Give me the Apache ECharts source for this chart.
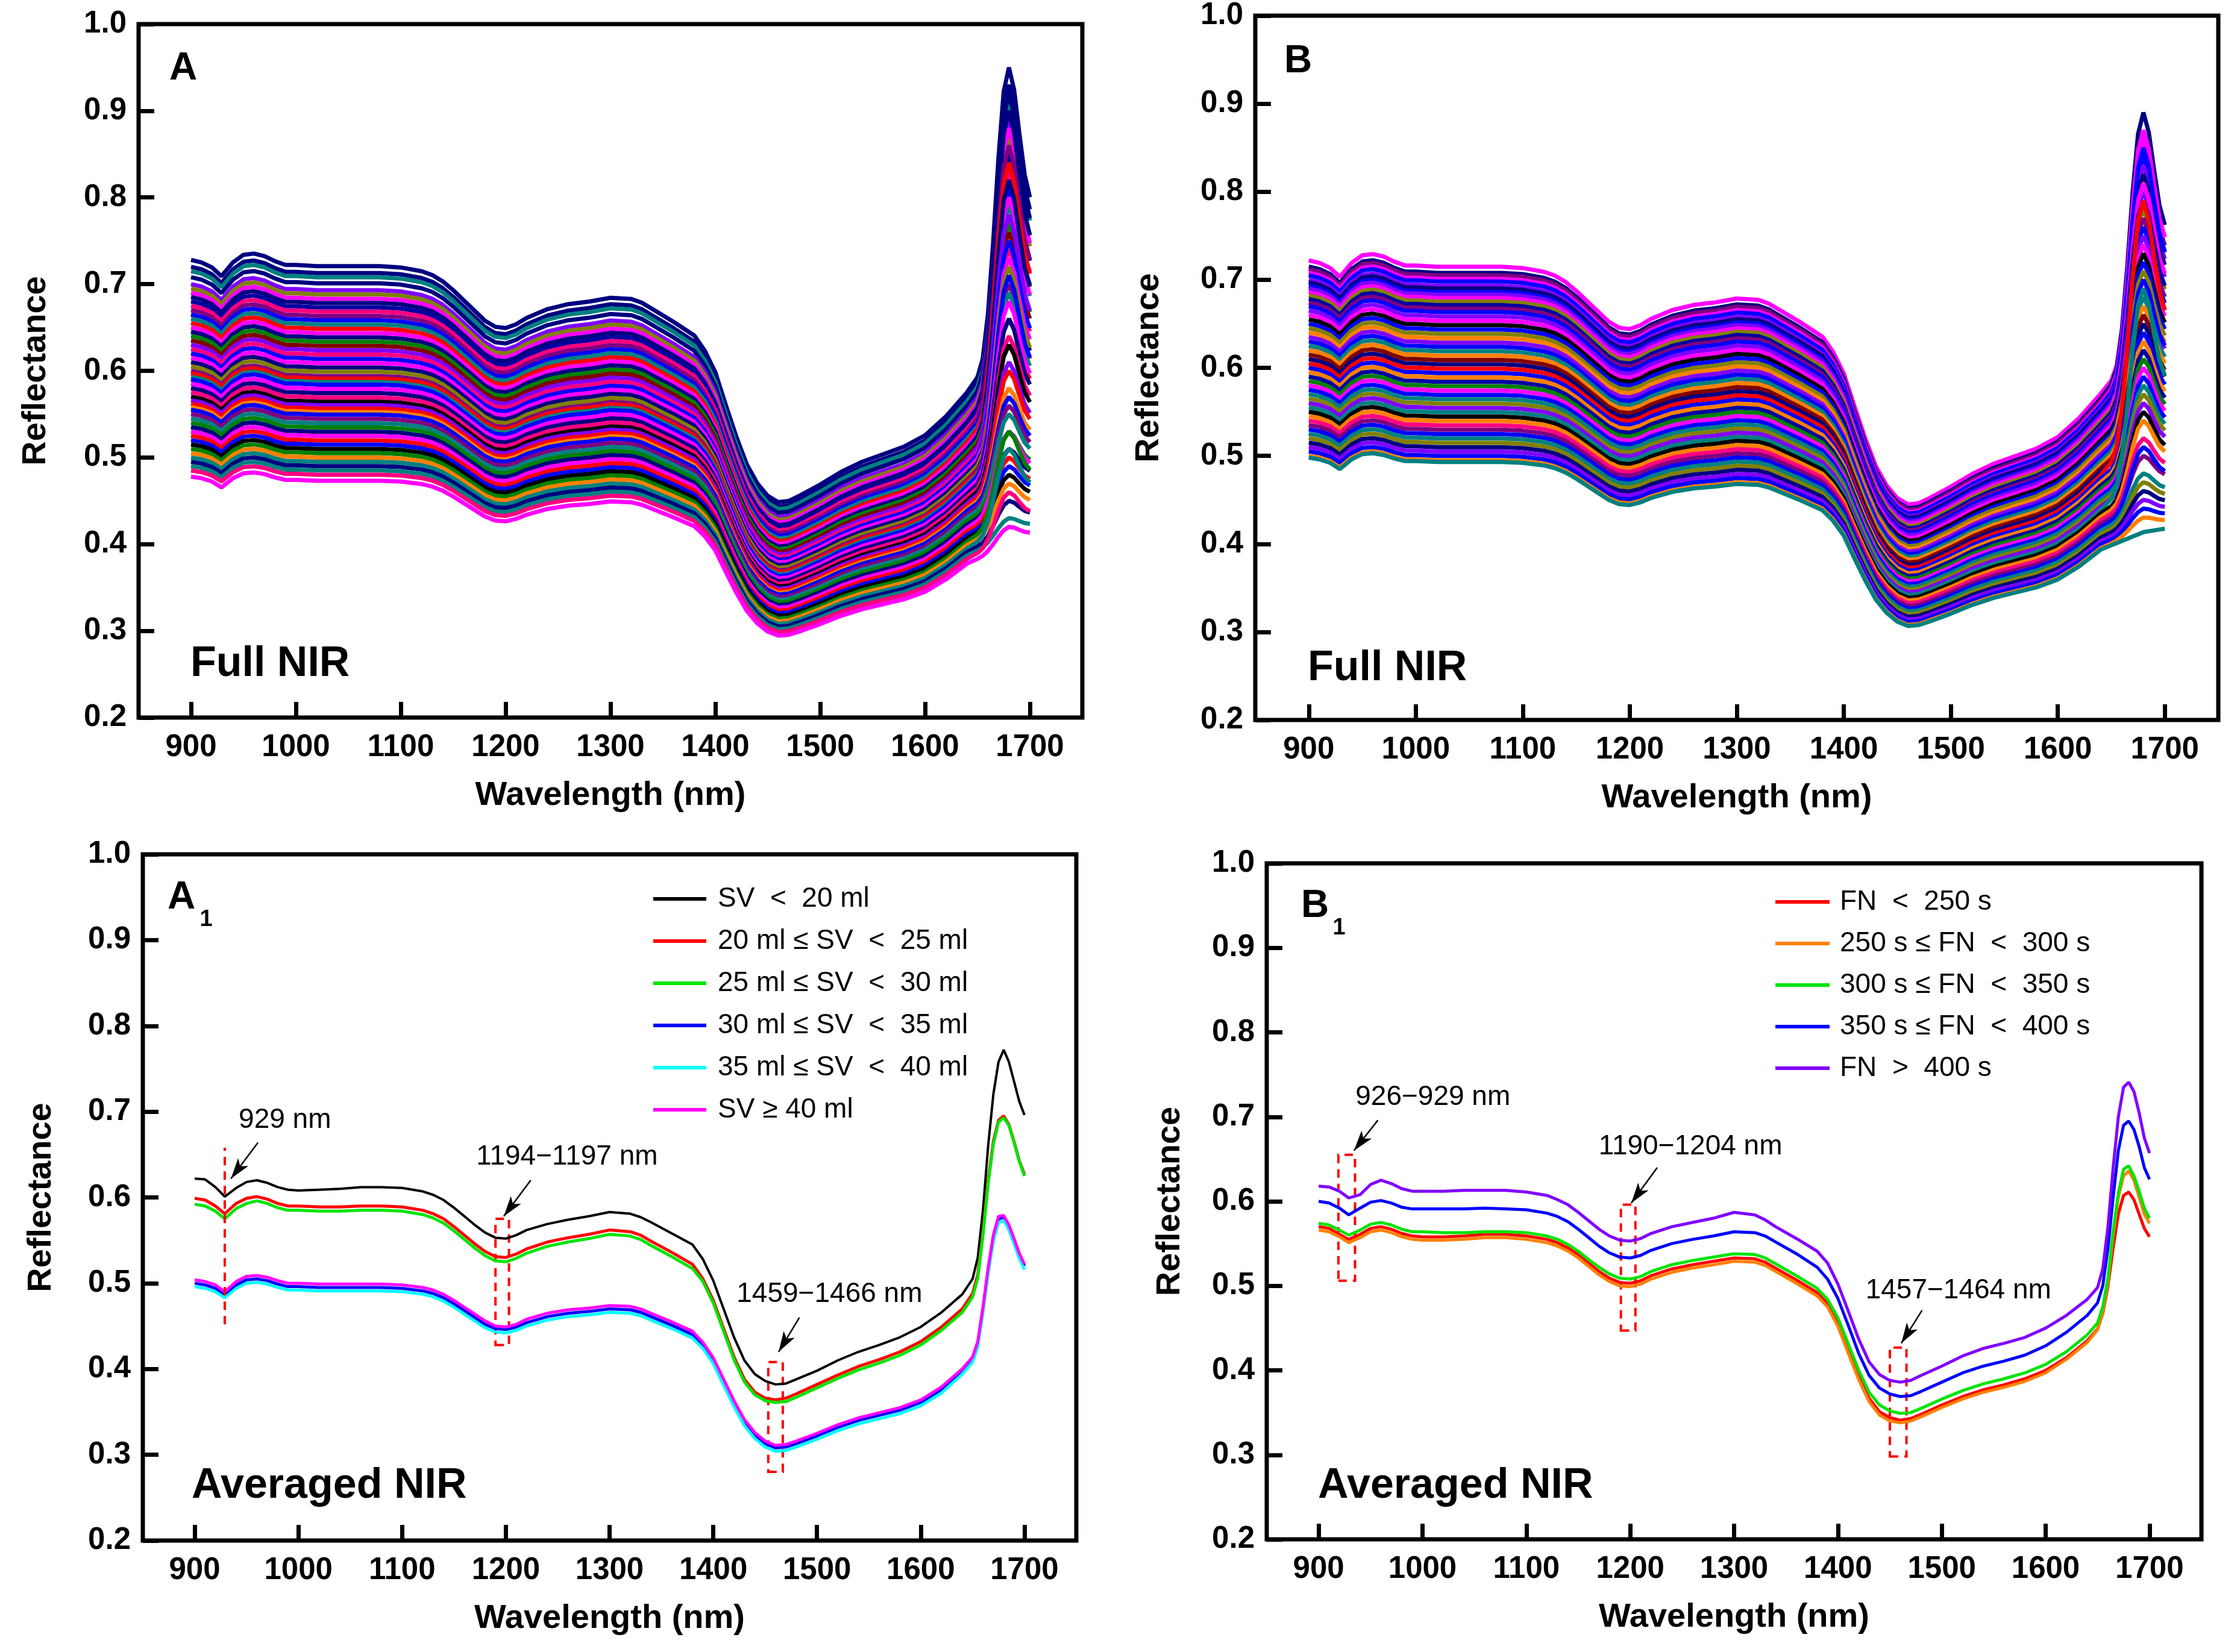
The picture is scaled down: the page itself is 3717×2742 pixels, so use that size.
<!DOCTYPE html>
<html>
<head>
	<meta http-equiv="Content-Type" content="text/html; charset=utf-8" />
	<title>NIR spectra</title>
	<style>
		html, body { margin: 0; padding: 0; background: #fff; }
		#main { width: 3717px; height: 2742px; }
	</style>
</head>
<body>
	<div id="main"></div>
	<script src="https://cdn.jsdelivr.net/npm/echarts@6/dist/echarts.min.js"></script>
	<script type="text/javascript">
		// wavelength grid (nm), finer around the 1680 nm peak
		var wavelength = [900,910,920,929,940,950,960,970,980,990,
			1000,1020,1040,1060,1080,1100,1120,1130,1140,1150,
			1160,1170,1180,1190,1200,1210,1220,1240,1260,1280,
			1300,1320,1330,1340,1360,1380,1390,1400,1410,1420,
			1430,1440,1450,1460,1470,1480,1500,1520,1540,1560,
			1580,1600,1620,1640,1650,1655,1660,1665,1670,1675,
			1680,1685,1690,1695,1700];
		var xTicks = [900,1000,1100,1200,1300,1400,1500,1600,1700];

		// ---- averaged spectra, panel A1 (semen volume groups)
		var svLabels = ['SV  <  20 ml', '20 ml ≤ SV  <  25 ml', '25 ml ≤ SV  <  30 ml',
			'30 ml ≤ SV  <  35 ml', '35 ml ≤ SV  <  40 ml', 'SV ≥ 40 ml'];
		var svColors = ['#000000', '#FF0000', '#00E400', '#0000FF', '#00FFFF', '#FF00FF'];
		var svBlack = [0.622,0.621,0.612,0.601,0.611,0.618,0.620,0.617,0.612,0.609,
			0.608,0.609,0.610,0.612,0.612,0.611,0.607,0.603,0.597,0.588,
			0.578,0.568,0.559,0.553,0.552,0.556,0.562,0.569,0.574,0.578,
			0.583,0.581,0.577,0.571,0.558,0.545,0.528,0.503,0.470,0.437,
			0.410,0.394,0.386,0.382,0.383,0.388,0.398,0.410,0.420,0.428,
			0.437,0.449,0.466,0.487,0.505,0.530,0.585,0.660,0.720,0.758,
			0.772,0.758,0.735,0.712,0.696];
		var svRed = [0.599,0.597,0.590,0.581,0.593,0.599,0.601,0.598,0.593,0.590,
			0.590,0.589,0.589,0.590,0.590,0.589,0.585,0.581,0.575,0.566,
			0.556,0.546,0.537,0.531,0.530,0.534,0.540,0.548,0.553,0.557,
			0.562,0.560,0.556,0.549,0.536,0.522,0.505,0.480,0.447,0.414,
			0.388,0.373,0.366,0.364,0.366,0.371,0.382,0.393,0.403,0.411,
			0.420,0.432,0.449,0.470,0.488,0.510,0.560,0.620,0.665,0.690,
			0.695,0.685,0.665,0.643,0.627];
		var svGreen = [0.592,0.590,0.584,0.575,0.587,0.593,0.596,0.593,0.588,0.585,
			0.585,0.584,0.584,0.585,0.585,0.584,0.580,0.576,0.570,0.561,
			0.551,0.541,0.532,0.526,0.525,0.529,0.535,0.543,0.548,0.552,
			0.557,0.555,0.551,0.544,0.531,0.517,0.502,0.477,0.444,0.411,
			0.385,0.370,0.363,0.361,0.362,0.367,0.378,0.389,0.399,0.407,
			0.416,0.428,0.445,0.466,0.484,0.506,0.556,0.616,0.662,0.688,
			0.693,0.684,0.664,0.642,0.625];
		var svBlue = [0.500,0.498,0.494,0.487,0.498,0.504,0.505,0.503,0.499,0.496,
			0.496,0.495,0.495,0.495,0.495,0.494,0.491,0.488,0.483,0.476,
			0.468,0.460,0.452,0.447,0.446,0.449,0.454,0.461,0.465,0.467,
			0.470,0.469,0.466,0.461,0.451,0.440,0.428,0.410,0.385,0.360,
			0.338,0.323,0.313,0.308,0.309,0.313,0.322,0.332,0.340,0.346,
			0.352,0.361,0.376,0.398,0.412,0.430,0.470,0.515,0.553,0.575,
			0.577,0.566,0.550,0.533,0.520];
		var svCyan = [0.496,0.494,0.490,0.483,0.494,0.500,0.501,0.499,0.495,0.492,
			0.492,0.491,0.491,0.491,0.491,0.490,0.487,0.484,0.479,0.472,
			0.464,0.456,0.448,0.443,0.442,0.445,0.450,0.457,0.461,0.463,
			0.466,0.465,0.462,0.457,0.447,0.436,0.424,0.406,0.381,0.356,
			0.334,0.319,0.309,0.304,0.305,0.309,0.318,0.328,0.336,0.342,
			0.348,0.357,0.372,0.394,0.408,0.426,0.466,0.511,0.549,0.571,
			0.573,0.562,0.546,0.529,0.516];
		var svMagenta = [0.504,0.502,0.498,0.490,0.502,0.508,0.509,0.507,0.503,0.500,
			0.500,0.499,0.499,0.499,0.499,0.498,0.495,0.492,0.487,0.480,
			0.472,0.464,0.456,0.450,0.449,0.452,0.458,0.465,0.469,0.471,
			0.474,0.473,0.470,0.465,0.455,0.444,0.431,0.413,0.388,0.363,
			0.341,0.326,0.316,0.311,0.312,0.316,0.325,0.335,0.343,0.349,
			0.355,0.364,0.379,0.400,0.414,0.432,0.472,0.518,0.556,0.578,
			0.579,0.568,0.552,0.535,0.522];

		// ---- averaged spectra, panel B1 (falling number groups)
		var fnLabels = ['FN  <  250 s', '250 s ≤ FN  <  300 s', '300 s ≤ FN  <  350 s',
			'350 s ≤ FN  <  400 s', 'FN  >  400 s'];
		var fnColors = ['#FF0000', '#FF8000', '#00E400', '#0000FF', '#8000FF'];
		var fnRed = [0.570,0.568,0.561,0.555,0.561,0.568,0.570,0.567,0.562,0.559,
			0.558,0.558,0.559,0.561,0.561,0.559,0.555,0.551,0.545,0.537,
			0.527,0.517,0.509,0.504,0.503,0.506,0.512,0.520,0.525,0.529,
			0.533,0.532,0.528,0.521,0.507,0.492,0.479,0.456,0.424,0.393,
			0.367,0.351,0.344,0.341,0.343,0.348,0.359,0.369,0.377,0.383,
			0.390,0.400,0.415,0.435,0.449,0.467,0.500,0.545,0.585,0.607,
			0.611,0.602,0.585,0.568,0.558];
		var fnOrange = [0.566,0.564,0.558,0.551,0.557,0.564,0.566,0.563,0.558,0.555,
			0.554,0.554,0.555,0.557,0.557,0.555,0.551,0.547,0.541,0.533,
			0.523,0.513,0.505,0.500,0.499,0.502,0.508,0.516,0.521,0.525,
			0.529,0.528,0.524,0.517,0.503,0.488,0.475,0.452,0.420,0.389,
			0.363,0.347,0.340,0.338,0.340,0.345,0.356,0.366,0.374,0.380,
			0.387,0.397,0.413,0.433,0.448,0.468,0.505,0.560,0.605,0.630,
			0.636,0.625,0.605,0.585,0.574];
		var fnGreen = [0.574,0.572,0.566,0.560,0.566,0.573,0.575,0.572,0.567,0.564,
			0.564,0.563,0.563,0.564,0.564,0.563,0.559,0.555,0.549,0.541,
			0.531,0.522,0.514,0.509,0.508,0.511,0.517,0.525,0.530,0.534,
			0.538,0.537,0.533,0.526,0.512,0.497,0.484,0.462,0.431,0.400,
			0.374,0.359,0.352,0.349,0.350,0.355,0.366,0.376,0.384,0.390,
			0.397,0.407,0.422,0.442,0.456,0.475,0.510,0.565,0.610,0.638,
			0.642,0.630,0.612,0.592,0.580];
		var fnBlue = [0.600,0.598,0.592,0.584,0.592,0.599,0.601,0.598,0.593,0.591,
			0.591,0.591,0.591,0.592,0.591,0.590,0.586,0.582,0.576,0.567,
			0.557,0.547,0.539,0.534,0.533,0.536,0.542,0.550,0.555,0.559,
			0.564,0.563,0.559,0.552,0.538,0.522,0.508,0.485,0.453,0.420,
			0.394,0.379,0.372,0.369,0.370,0.375,0.386,0.397,0.405,0.411,
			0.418,0.429,0.445,0.465,0.480,0.500,0.545,0.605,0.660,0.690,
			0.695,0.685,0.665,0.640,0.626];
		var fnViolet = [0.618,0.617,0.612,0.604,0.608,0.620,0.625,0.621,0.615,0.612,
			0.612,0.612,0.613,0.613,0.613,0.611,0.607,0.602,0.596,0.587,
			0.577,0.567,0.559,0.554,0.553,0.556,0.562,0.570,0.575,0.580,
			0.587,0.584,0.578,0.570,0.556,0.541,0.527,0.502,0.470,0.437,
			0.410,0.395,0.388,0.386,0.388,0.394,0.405,0.417,0.426,0.432,
			0.439,0.450,0.465,0.484,0.498,0.520,0.570,0.640,0.700,0.735,
			0.741,0.730,0.705,0.675,0.657];

		// ---- full NIR sets: common spectral shape (relative to 900 nm) + 1680 nm band
		var fullShape = [1.000,0.996,0.988,0.974,0.996,1.008,1.010,1.006,0.998,0.992,
			0.992,0.990,0.990,0.990,0.990,0.988,0.982,0.976,0.966,0.952,
			0.936,0.920,0.904,0.894,0.892,0.898,0.908,0.922,0.930,0.934,
			0.940,0.938,0.932,0.922,0.902,0.880,0.856,0.822,0.770,0.720,
			0.676,0.646,0.626,0.616,0.618,0.626,0.644,0.664,0.680,0.692,
			0.704,0.722,0.752,0.790,0.800,0.805,0.810,0.815,0.820,0.825,
			0.830,0.832,0.834,0.836,0.838];
		var peakShape = [0,0,0,0,0,0,0,0,0,0, 0,0,0,0,0,0,0,0,0,0,
			0,0,0,0,0,0,0,0,0,0, 0,0,0,0,0,0,0,0,0,0,
			0,0,0,0,0,0,0,0,0,0, 0,0,0,0,0.03,0.08,0.22,0.45,0.72,0.93,
			1.00,0.92,0.77,0.63,0.55];

		// reflectance at 900 nm and at the 1680 nm peak, per sample
		var fullA_level = [0.728,0.72,0.715,0.708,0.70,0.695,0.69,0.685,0.68,0.675,
			0.67,0.665,0.66,0.655,0.65,0.645,0.64,0.635,0.63,0.625,
			0.62,0.615,0.61,0.605,0.60,0.597,0.593,0.59,0.585,0.58,
			0.575,0.57,0.566,0.562,0.558,0.555,0.55,0.545,0.54,0.535,
			0.53,0.525,0.52,0.515,0.51,0.505,0.50,0.495,0.49,0.485,0.478];
		var fullA_peak = [0.95,0.93,0.91,0.92,0.89,0.87,0.88,0.90,0.85,0.83,
			0.86,0.81,0.79,0.84,0.80,0.82,0.77,0.76,0.78,0.74,
			0.75,0.73,0.71,0.72,0.70,0.66,0.69,0.71,0.68,0.66,
			0.64,0.63,0.61,0.60,0.58,0.57,0.56,0.55,0.53,0.51,
			0.53,0.50,0.49,0.48,0.53,0.47,0.51,0.45,0.43,0.46,0.42];
		var fullA_color = ['navy','navy','darkcyan','navy','violet','olive','magenta','navy','royal','pink',
			'purple','blue','darkcyan','red','magenta','navy','dkgreen','wine','violet','pink',
			'blue','magenta','navy','olive','purple','red','darkcyan','blue','magenta','navy',
			'pink','black','violet','red','orange','blue','purple','darkcyan','dkgreen','navy',
			'magenta','red','blue','black','dkgreen','orange','darkcyan','navy','darkcyan','pink','magenta'];

		var fullB_level = [0.722,0.715,0.712,0.708,0.705,0.70,0.697,0.693,0.69,0.686,
			0.682,0.678,0.674,0.67,0.665,0.66,0.655,0.65,0.645,0.64,
			0.635,0.63,0.625,0.62,0.615,0.61,0.605,0.60,0.595,0.59,
			0.585,0.58,0.575,0.57,0.565,0.56,0.555,0.55,0.545,0.54,
			0.535,0.53,0.525,0.52,0.515,0.51,0.505,0.50,0.498];
		var fullB_peak = [0.86,0.89,0.85,0.87,0.84,0.83,0.82,0.85,0.80,0.81,
			0.78,0.79,0.77,0.76,0.75,0.74,0.73,0.72,0.71,0.70,
			0.69,0.70,0.68,0.67,0.66,0.65,0.79,0.64,0.63,0.62,
			0.61,0.60,0.59,0.58,0.57,0.56,0.69,0.55,0.54,0.52,
			0.50,0.51,0.48,0.47,0.46,0.45,0.44,0.43,0.41];
		var fullB_color = ['magenta','navy','purple','magenta','blue','violet','navy','blue','violet','magenta',
			'olive','royal','purple','blue','violet','magenta','black','blue','olive','orange',
			'violet','blue','darkcyan','orange','wine','navy','red','blue','orange','royal',
			'dkgreen','magenta','blue','darkcyan','olive','violet','darkcyan','black','orange','pink',
			'purple','blue','darkcyan','olive','navy','violet','blue','orange','darkcyan'];

		var palette = {
			navy: '#000080', blue: '#0000FF', magenta: '#FF00FF', pink: '#FF0080', red: '#FF0000',
			dkgreen: '#008000', olive: '#808000', darkcyan: '#008080', purple: '#800080',
			wine: '#800000', violet: '#8000FF', royal: '#0000A0', orange: '#FF8000', black: '#000000'
		};

		var FONT = '"Liberation Sans", Arial, sans-serif';

		var grids = [
			{ left: 230, top: 40, width: 1566, height: 1151 },
			{ left: 2083, top: 26, width: 1598, height: 1169 },
			{ left: 237, top: 1418, width: 1549, height: 1139 },
			{ left: 2102, top: 1433, width: 1551, height: 1122 }
		];
		var yNameGap = [142, 148, 140, 132];

		function pairs(values) {
			return wavelength.map(function (w, i) { return [w, values[i]]; });
		}

		function fullSpectrum(level, peak) {
			var amp = Math.max(0, peak / level - fullShape[60]);
			return wavelength.map(function (w, i) {
				return [w, level * (fullShape[i] + amp * peakShape[i])];
			});
		}

		var xAxes = [], yAxes = [], series = [];
		grids.forEach(function (g, k) {
			xAxes.push({
				type: 'value', gridIndex: k, min: 850, max: 1750,
				name: 'Wavelength (nm)', nameLocation: 'middle', nameGap: 102,
				nameTextStyle: { fontFamily: FONT, fontWeight: 'bold', fontSize: 56, color: '#000' },
				axisLine: { show: false },
				splitLine: { show: false },
				axisTick: { inside: true, length: 26, customValues: xTicks, lineStyle: { color: '#000', width: 7 } },
				axisLabel: {
					customValues: xTicks, margin: 24, fontFamily: FONT, fontWeight: 'bold', fontSize: 51, color: '#000',
					formatter: function (v) { return String(v); }
				}
			});
			yAxes.push({
				type: 'value', gridIndex: k, min: 0.2, max: 1.0, interval: 0.1,
				name: 'Reflectance', nameLocation: 'middle', nameGap: yNameGap[k], nameRotate: 90,
				nameTextStyle: { fontFamily: FONT, fontWeight: 'bold', fontSize: 56, color: '#000' },
				axisLine: { show: false },
				splitLine: { show: false },
				axisTick: { inside: true, length: 26, lineStyle: { color: '#000', width: 7 } },
				axisLabel: {
					margin: 20, showMinLabel: true, showMaxLabel: true,
					fontFamily: FONT, fontWeight: 'bold', fontSize: 51, color: '#000',
					formatter: function (v) { return v.toFixed(1); }
				}
			});
		});

		function addFull(levels, peaks, colors, k, tag) {
			levels.forEach(function (lv, i) {
				var c = palette[colors[i]];
				series.push({
					type: 'line', name: tag + i, xAxisIndex: k, yAxisIndex: k,
					data: fullSpectrum(lv, peaks[i]), showSymbol: false, symbol: 'none',
					color: c, lineStyle: { width: 7, color: c }, silent: true
				});
			});
		}
		addFull(fullA_level, fullA_peak, fullA_color, 0, 'fa');
		addFull(fullB_level, fullB_peak, fullB_color, 1, 'fb');

		[svBlack, svRed, svGreen, svBlue, svCyan, svMagenta].forEach(function (arr, i) {
			series.push({
				type: 'line', name: svLabels[i], xAxisIndex: 2, yAxisIndex: 2,
				data: pairs(arr), showSymbol: false, symbol: 'none',
				color: svColors[i], lineStyle: { width: i === 0 ? 4 : 5, color: svColors[i] }, silent: true
			});
		});
		[fnRed, fnOrange, fnGreen, fnBlue, fnViolet].forEach(function (arr, i) {
			series.push({
				type: 'line', name: fnLabels[i], xAxisIndex: 3, yAxisIndex: 3,
				data: pairs(arr), showSymbol: false, symbol: 'none',
				color: fnColors[i], lineStyle: { width: 5, color: fnColors[i] }, silent: true
			});
		});

		// annotations: label text, arrow, dashed marker boxes
		function annotSeries(k, texts, arrows, boxes, vlines) {
			var lineData = arrows.map(function (a) {
				return [{ coord: [a[0], a[1]], symbol: 'none' },
					{ coord: [a[2], a[3]], symbol: 'arrow', symbolSize: [16, 34] }];
			});
			vlines.forEach(function (v) {
				lineData.push([{ coord: [v[0], v[1]], symbol: 'none', lineStyle: { color: '#FF0000', type: [14, 10], width: 4 } },
					{ coord: [v[0], v[2]], symbol: 'none' }]);
			});
			return {
				type: 'line', name: 'annot' + k, xAxisIndex: k, yAxisIndex: k, data: [], z: 5, silent: true,
				markLine: {
					silent: true, animation: false,
					label: { show: false },
					lineStyle: { color: '#000', type: 'solid', width: 2.5 },
					itemStyle: { color: '#000' },
					data: lineData
				},
				markArea: {
					silent: true,
					itemStyle: { color: 'rgba(0,0,0,0)', borderColor: '#FF0000', borderWidth: 4, borderType: [14, 10] },
					data: boxes.map(function (b) { return [{ coord: [b[0], b[2]] }, { coord: [b[1], b[3]] }]; })
				},
				markPoint: {
					silent: true, symbol: 'rect', symbolSize: 1, itemStyle: { color: 'rgba(0,0,0,0)' },
					label: { show: true, position: 'inside', color: '#000', fontFamily: FONT, fontSize: 46,
						formatter: function (p) { return p.name; } },
					data: texts.map(function (t) { return { name: t[0], coord: [t[1], t[2]] }; })
				}
			};
		}

		var a1Texts = [['929 nm', 987, 0.690], ['1194−1197 nm', 1259, 0.647], ['1459−1466 nm', 1512, 0.487]];
		var a1Arrows = [[961, 0.664, 935, 0.622], [1224, 0.620, 1198, 0.578], [1483, 0.460, 1463, 0.420]];
		var a1Boxes = [[1190, 1203, 0.428, 0.575], [1453, 1467, 0.280, 0.408]];
		var a1Lines = [[929, 0.452, 0.658]];

		var b1Texts = [['926−929 nm', 1010, 0.723], ['1190−1204 nm', 1258, 0.665], ['1457−1464 nm', 1516, 0.494]];
		var b1Arrows = [[957, 0.696, 934, 0.660], [1226, 0.640, 1201, 0.598], [1481, 0.471, 1461, 0.432]];
		var b1Boxes = [[919, 935, 0.506, 0.655], [1191, 1205, 0.447, 0.596], [1450, 1466, 0.298, 0.427]];

		series.push(annotSeries(2, a1Texts, a1Arrows, a1Boxes, a1Lines));
		series.push(annotSeries(3, b1Texts, b1Arrows, b1Boxes, []));

		function panelText(text, x, y, size, align) {
			return {
				type: 'text', x: x, y: y, z: 100,
				style: { text: text, fill: '#000', fontFamily: FONT, fontWeight: 'bold', fontSize: size,
					textAlign: align || 'left', textVerticalAlign: 'middle' }
			};
		}

		var chart = echarts.init(document.getElementById('main'));
		chart.setOption({
			backgroundColor: '#fff',
			animation: false,
			grid: grids.map(function (g) {
				return { left: g.left, top: g.top, width: g.width, height: g.height,
					show: true, borderColor: '#000', borderWidth: 7, backgroundColor: 'transparent' };
			}),
			xAxis: xAxes,
			yAxis: yAxes,
			legend: [
				{ data: svLabels, left: 1079, top: 1464, orient: 'vertical', icon: 'rect',
					itemWidth: 88, itemHeight: 6, itemGap: 24, selectedMode: false,
					textStyle: { fontFamily: FONT, fontSize: 46, color: '#000', padding: [0, 0, 0, 14] } },
				{ data: fnLabels, left: 2941, top: 1469, orient: 'vertical', icon: 'rect',
					itemWidth: 90, itemHeight: 6, itemGap: 23, selectedMode: false,
					textStyle: { fontFamily: FONT, fontSize: 46, color: '#000', padding: [0, 0, 0, 12] } }
			],
			graphic: [
				panelText('A', 304, 114, 64, 'center'),
				panelText('Full NIR', 316, 1103, 70),
				panelText('B', 2154, 102, 64, 'center'),
				panelText('Full NIR', 2170, 1110, 70),
				panelText('A', 301, 1490, 64, 'center'),
				panelText('1', 342, 1527, 38, 'center'),
				panelText('Averaged NIR', 318, 2467, 70),
				panelText('B', 2182, 1504, 64, 'center'),
				panelText('1', 2222, 1541, 38, 'center'),
				panelText('Averaged NIR', 2187, 2467, 70)
			],
			series: series
		});
	</script>
</body>
</html>
